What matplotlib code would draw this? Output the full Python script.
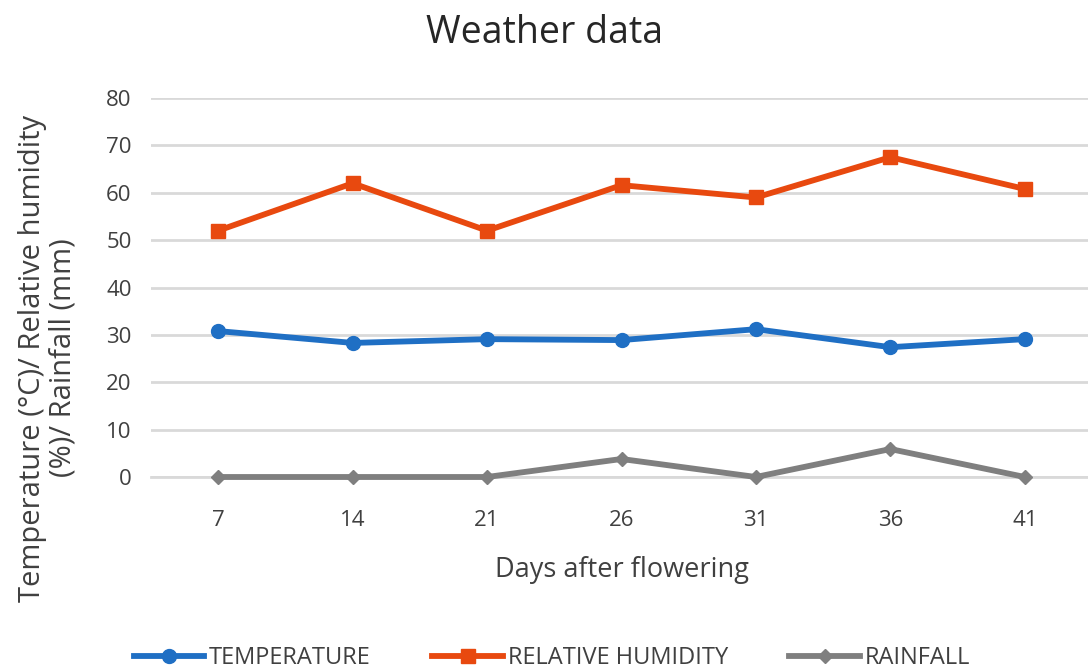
import matplotlib
matplotlib.use("Agg")
import matplotlib.pyplot as plt

days = ["7", "14", "21", "26", "31", "36", "41"]
temperature = [30.8, 28.3, 29.1, 28.9, 31.2, 27.4, 29.1]
humidity = [52, 62, 52, 61.6, 59, 67.5, 60.8]
rainfall = [0, 0, 0, 3.8, 0, 5.9, 0]
yticks = [0, 10, 20, 30, 40, 50, 60, 70, 80]

plt.rcParams['font.family'] = ['Open Sans', 'DejaVu Sans']
txt = '#404040'

fig = plt.figure(figsize=(10.88, 6.7), dpi=100)
ax = fig.add_axes([151/1088, 193/670, (1092-151)/1088, (477-98)/670])
x = list(range(len(days)))

ax.plot(x, temperature, color='#1F6FC4', lw=4.2, marker='o', ms=10, label='TEMPERATURE', clip_on=False, zorder=3)
ax.plot(x, humidity, color='#E8490F', lw=4.2, marker='s', ms=10, label='RELATIVE HUMIDITY', clip_on=False, zorder=3)
ax.plot(x, rainfall, color='#7F7F7F', lw=4.2, marker='D', ms=7, label='RAINFALL', clip_on=False, zorder=3)

ax.set_xlim(-0.5, 6.5)
ax.set_ylim(0, 80)
ax.set_yticks(yticks)
ax.set_xticks(x)
ax.set_xticklabels(days)
ax.grid(axis='y', color='#D9D9D9', lw=2)
ax.set_axisbelow(True)
for s in ['top', 'right', 'left']:
    ax.spines[s].set_visible(False)
ax.spines['bottom'].set_color('#D9D9D9')
ax.spines['bottom'].set_linewidth(2)
ax.tick_params(axis='both', length=0, labelsize=16, labelcolor=txt)
ax.tick_params(axis='y', pad=14)
ax.tick_params(axis='x', pad=24)

ax.set_xlabel('Days after flowering', fontsize=19.5, color=txt, labelpad=18)
fig.text(48/1088, 1 - 358/670, 'Temperature (°C)/ Relative humidity\n(%)/ Rainfall (mm)',
         rotation=90, ha='center', va='center', fontsize=21, color=txt, linespacing=1.05)
fig.text(545/1088, 1 - 33/670, 'Weather data', ha='center', va='center', fontsize=27, color='#262626')

leg = fig.legend(loc='center', bbox_to_anchor=(552/1088, 1 - 658/670), ncol=3, frameon=False,
                 handlelength=3, columnspacing=2.6, handletextpad=0.2,
                 prop={'family': ['Open Sans', 'DejaVu Sans'], 'size': 17})
for t in leg.get_texts():
    t.set_color(txt)

fig.savefig('out.png', dpi=100)
